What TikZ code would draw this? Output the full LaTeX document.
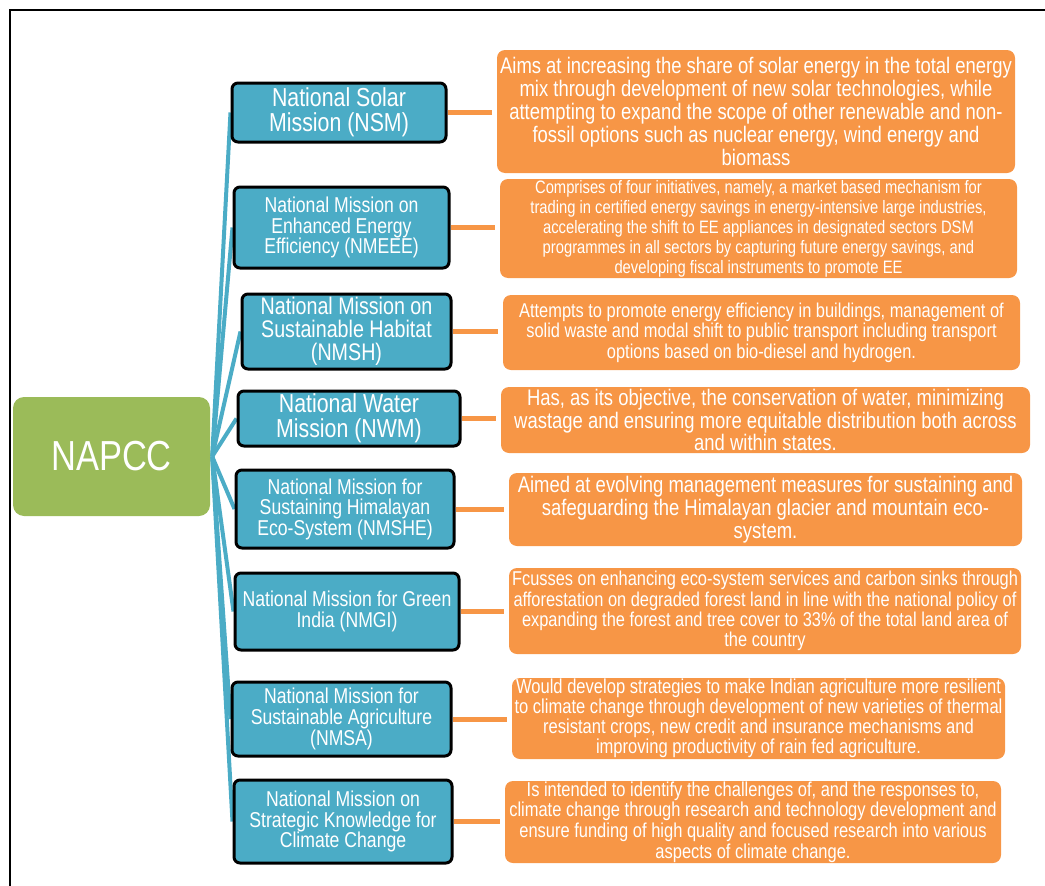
\documentclass[tikz,border=0pt]{standalone}
\usepackage{fontspec}
\setmainfont{Liberation Sans}[FakeStretch=0.82]
\usetikzlibrary{backgrounds}
\definecolor{mblue}{HTML}{4BACC6}
\definecolor{morange}{HTML}{F79646}
\definecolor{mgreen}{HTML}{9BBB59}
\tikzset{
  bluebox/.style={draw=black, line width=3pt, fill=mblue, rounded corners=6pt,
    text=white, align=center, inner sep=0pt},
  orangebox/.style={fill=morange, rounded corners=8pt, text=white, align=center, inner sep=0pt},
  rootbox/.style={fill=mgreen, rounded corners=11pt, text=white, align=center, inner sep=0pt},
  fanline/.style={draw=mblue, line width=4pt},
  linkline/.style={draw=morange, line width=5pt, shorten >=5pt},
  fs/.style 2 args={font=\fontsize{#1}{#2}\selectfont}
}
\begin{document}
\begin{tikzpicture}[x=1pt,y=-1pt]
\useasboundingbox (0,0) rectangle (1045,886);
\draw[line width=2pt] (10,900) -- (10,10) -- (1060,10);

\node[rootbox, minimum width=197pt, minimum height=119pt, fs={42}{48}] (napcc) at (111.5,456.5) {NAPCC};

\node[bluebox, minimum width=214pt, minimum height=59pt, fs={26}{25}] (b1) at (339,112.5) {National Solar\\Mission (NSM)};
\node[bluebox, minimum width=215pt, minimum height=81pt, fs={21.5}{20.5}] (b2) at (341.5,227.5) {National Mission on\\Enhanced Energy\\Efficiency (NMEEE)};
\node[bluebox, minimum width=209pt, minimum height=75pt, fs={24}{23}] (b3) at (346.5,331.5) {National Mission on\\Sustainable Habitat\\(NMSH)};
\node[bluebox, minimum width=222pt, minimum height=55pt, fs={26}{25}] (b4) at (349,418.5) {National Water\\Mission (NWM)};
\node[bluebox, minimum width=218pt, minimum height=78pt, fs={21.5}{20.5}] (b5) at (345,509) {National Mission for\\Sustaining Himalayan\\Eco-System (NMSHE)};
\node[bluebox, minimum width=224pt, minimum height=77pt, fs={21.5}{21}] (b6) at (347,611.5) {National Mission for Green\\India (NMGI)};
\node[bluebox, minimum width=219pt, minimum height=74pt, fs={21.5}{21}] (b7) at (341.5,719) {National Mission for\\Sustainable Agriculture\\(NMSA)};
\node[bluebox, minimum width=218pt, minimum height=83pt, fs={21.5}{20.5}] (b8) at (343,821.5) {National Mission on\\Strategic Knowledge for\\Climate Change};

\node[orangebox, minimum width=518pt, minimum height=123pt, fs={22.5}{22.8}] (o1) at (756,111.5) {Aims at increasing the share of solar energy in the total energy\\mix through development of new solar technologies, while\\attempting to expand the scope of other renewable and non-\\fossil options such as nuclear energy, wind energy and\\biomass};
\node[orangebox, minimum width=517pt, minimum height=99pt, fs={18}{20}] (o2) at (758.5,228.5) {Comprises of four initiatives, namely, a market based mechanism for\\trading in certified energy savings in energy-intensive large industries,\\accelerating the shift to EE appliances in designated sectors DSM\\programmes in all sectors by capturing future energy savings, and\\developing fiscal instruments to promote EE};
\node[orangebox, minimum width=517pt, minimum height=75pt, fs={20}{20.5}] (o3) at (761.5,332.5) {Attempts to promote energy efficiency in buildings, management of\\solid waste and modal shift to public transport including transport\\options based on bio-diesel and hydrogen.};
\node[orangebox, minimum width=529pt, minimum height=66pt, fs={22.5}{22.5}] (o4) at (765.5,420) {Has, as its objective, the conservation of water, minimizing\\wastage and ensuring more equitable distribution both across\\and within states.};
\node[orangebox, minimum width=513pt, minimum height=73pt, fs={22.5}{23}] (o5) at (765.5,509.5) {Aimed at evolving management measures for sustaining and\\safeguarding the Himalayan glacier and mountain eco-\\system.};
\node[orangebox, minimum width=512pt, minimum height=86pt, fs={20}{20.3}] (o6) at (765,611) {Fcusses on enhancing eco-system services and carbon sinks through\\afforestation on degraded forest land in line with the national policy of\\expanding the forest and tree cover to 33\% of the total land area of\\the country};
\node[orangebox, minimum width=493pt, minimum height=81pt, fs={20.2}{20}] (o7) at (758.5,718.5) {Would develop strategies to make Indian agriculture more resilient\\to climate change through development of new varieties of thermal\\resistant crops, new credit and insurance mechanisms and\\improving productivity of rain fed agriculture.};
\node[orangebox, minimum width=496pt, minimum height=82pt, fs={20.1}{20.7}] (o8) at (753,822) {Is intended to identify the challenges of, and the responses to,\\climate change through research and technology development and\\ensure funding of high quality and focused research into various\\aspects of climate change.};

\begin{pgfonlayer}{background}
\foreach \i in {1,...,8} {
  \draw[fanline] ([xshift=2pt]napcc.east) -- (b\i.west);
}
\end{pgfonlayer}
\foreach \i in {1,...,8} {
  \draw[linkline] (b\i.east) -- (b\i.east -| o\i.west);
}
\end{tikzpicture}
\end{document}
